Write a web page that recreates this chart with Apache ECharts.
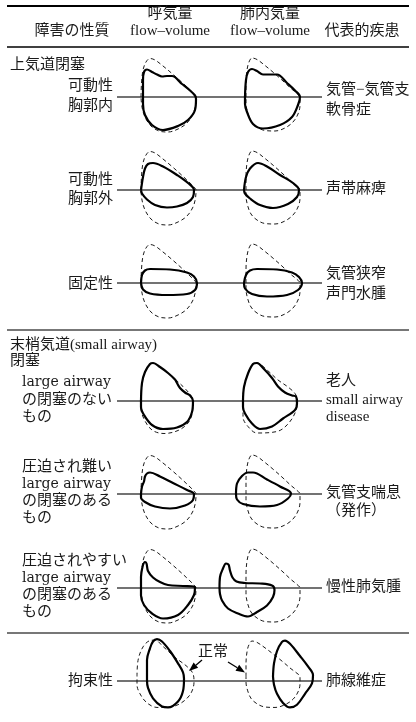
<!DOCTYPE html>
<html>
<head>
<meta charset="utf-8">
<script src="https://cdn.jsdelivr.net/npm/echarts@6/dist/echarts.min.js"></script>
<style>
  html, body { margin: 0; padding: 0; background: #fff; }
  #chart { width: 416px; height: 722px; }
</style>
</head>
<body>
<div id="chart"></div>
<script>
// loops as [volume, flow] ; flow > 0 expiration, < 0 inspiration
// normal reference loops (dashed)
const normalExp = [[11,0],[11.5,14],[13,27],[16,35],[20,38.5],[25,37],[33,31],[42,23.5],[51,15.5],[59,8],[64,3],[66,0],[65.5,-8],[63,-17],[57,-26],[48,-32],[38,-35],[29,-34],[21,-29],[15,-20],[12,-10],[11,0]];
const normalLung = [[16,0],[16,14],[17,27],[19,35],[22,39],[27,37.5],[35,31.5],[44,24],[53,16],[61,8.5],[67,3.5],[70,0],[70,-8],[68,-17],[63,-25],[55,-31],[45,-34],[35,-33.5],[27,-30],[21,-24],[17.5,-15],[16,-6],[16,0]];
const r4Normal = [[11,0],[12,18],[15,29],[20,37],[23,38],[30,34],[38,28],[46,21],[53,14.5],[59,8],[62.5,3],[63,0],[62.5,-11],[58,-22],[48,-29.5],[34,-32.5],[22,-29],[14,-18],[11,-7],[11,0]];
const r4LungNormal = [[13,0],[14,14],[18,27.5],[23,37],[27,38],[37,31],[48,21],[58,14],[65,7.5],[67.5,1],[65,-12],[57,-24],[47,-30.5],[27,-32],[18,-25.5],[13,-16],[13,0]];
const r7Normal = [[7,0],[8,17.5],[13,32.5],[20,39.5],[25,40],[33,33],[45,21],[57,11],[63,3],[64,-6],[62,-16],[57,-24],[48,-31],[37,-34],[27,-34],[17,-29],[10,-19],[7,-9],[7,0]];

// disease loops (solid)
const r1Exp = [[13,0],[13,17],[14,25],[17,27.5],[22,25],[27,22.5],[32,20.5],[37,21],[42,21],[52,13],[60,6.5],[65,1.5],[66,-2],[65,-13],[58,-23],[48,-29],[33,-33],[22,-28],[15,-18],[13,-7],[13,0]];
const r1Lung = [[15,0],[16,17],[18,25],[22,28],[27,26],[33,22.5],[40,22.5],[47,22.5],[57,14],[65,6.5],[70,0],[68,-8],[62,-20],[50,-28],[33,-31.5],[23,-27],[17,-15],[15,-7],[15,0]];
const r2Exp = [[11,0],[13,13],[15,21.5],[18,26],[23,27],[33,23.5],[47,15],[58,7],[64,0],[63,-7],[57,-13],[47,-16.5],[37,-17.5],[25,-15],[17,-9.5],[12,-3.5],[11,0]];
const r2Lung = [[14,0],[16,13],[20,21.5],[28,27],[37,23.5],[50,15],[63,7],[69,0],[67,-7],[58,-14],[43,-18],[30,-15],[20,-8.5],[15,-3.5],[14,0]];
const r3Exp = [[11,0],[12,8],[15,12.5],[20,14],[40,13.5],[57,10.5],[64,6.5],[67,0],[65,-7],[57,-11],[37,-12],[20,-10.5],[13,-6.5],[11,0]];
const r3Lung = [[14,0],[16,8],[20,12.5],[27,14],[47,13.5],[62,10.5],[69,6],[72,0],[68,-7],[57,-12],[37,-13.5],[22,-11],[15,-5.5],[14,0]];
const r4Exp = [[11,0],[12,18],[15,29],[20,37],[23,38],[30,34],[38,28],[45,21.5],[47,18],[50,13],[55,8.5],[60,5.5],[63,0],[62,-11],[57,-21],[47,-26.5],[33,-28],[22,-24],[14,-14],[11,-6],[11,0]];
const r4Lung = [[13,0],[14,14],[18,27.5],[23,37],[27,38],[33,33],[42,23],[48,14.5],[55,8.5],[62,5.5],[66,4.5],[67,-2],[65,-9],[53,-17.5],[42,-25.5],[30,-28],[22,-22.5],[15,-12.5],[13,-6],[13,0]];
const r5Exp = [[11,0],[12,7.5],[14,12.5],[15,17.5],[17,20.5],[20,21.5],[30,17.5],[43,11],[57,4],[64,0],[63,-6],[55,-11.5],[40,-14.5],[25,-12.5],[15,-8],[11,-3.5],[11,0]];
const r5Lung = [[6,0],[7,10.5],[12,18],[18,21.5],[23,21.5],[37,14.5],[50,7.5],[61,0.5],[58,-4.5],[47,-11],[30,-12.5],[13,-10],[7,-5.5],[6,0]];
const r6Exp = [[11,0],[11,11],[12.5,21],[15,26],[16.5,24.5],[18,17],[23,10.5],[30,6],[38,3],[53,2],[65,1],[64,-7],[58,-17],[48,-27],[33,-30.5],[22,-25.5],[14,-17],[11,-7.5],[11,0]];
const r6Lung = [[-10.5,0],[-10,11],[-7,19.5],[-4,24.5],[-1.5,23.5],[0,17.5],[2.5,10.5],[6.5,6.5],[15,5],[30,4.5],[42,2.5],[44.5,-2],[43,-9],[37,-17.5],[27,-24],[18,-28.5],[8,-25.5],[-2,-20.5],[-8,-12.5],[-10,-6],[-10.5,0]];
const r7Exp = [[17,0],[17,18],[20,31],[23,38.5],[27,41],[32,38.5],[40,28],[48,14.5],[53,4.5],[54,-2.5],[53,-16],[48,-27.5],[38,-34],[32,-33],[23,-24],[18,-12.5],[17,-4],[17,0]];
const r7Lung = [[43,0],[44,14.5],[47,28],[52,38],[55,39.5],[60,36],[70,22.5],[78,11],[83,1.5],[82,-7.5],[75,-19],[67,-31],[60,-34],[53,-29],[47,-19],[44,-9],[43,0]];

// texts
const headers = ['障害の性質', '呼気量', 'flow–volume', '肺内気量', 'flow–volume', '代表的疾患'];
const groups = ['上気道閉塞', '末梢気道(small airway)', '閉塞'];
const rowLabels = [
  ['可動性', '胸郭内'],
  ['可動性', '胸郭外'],
  ['固定性'],
  ['large airway', 'の閉塞のない', 'もの'],
  ['圧迫され難い', 'large airway', 'の閉塞のある', 'もの'],
  ['圧迫されやすい', 'large airway', 'の閉塞のある', 'もの'],
  ['拘束性']
];
const diseases = [
  ['気管−気管支', '軟骨症'],
  ['声帯麻痺'],
  ['気管狭窄', '声門水腫'],
  ['老人', 'small airway', 'disease'],
  ['気管支喘息', '（発作）'],
  ['慢性肺気腫'],
  ['肺線維症']
];
const normalLabel = '正常';

const panels = [
  [0, 0, normalExp, r1Exp], [0, 1, normalLung, r1Lung],
  [1, 0, normalExp, r2Exp], [1, 1, normalLung, r2Lung],
  [2, 0, normalExp, r3Exp], [2, 1, normalLung, r3Lung],
  [3, 0, r4Normal, r4Exp], [3, 1, r4LungNormal, r4Lung],
  [4, 0, normalExp, r5Exp], [4, 1, normalLung, r5Lung],
  [5, 0, normalExp, r6Exp], [5, 1, normalLung, r6Lung],
  [6, 0, r7Normal, r7Exp], [6, 1, normalLung, r7Lung]
];

// layout
const rowY = [97, 190, 283, 401, 494, 588, 681];
const colX = [130, 230];
const FONT = "'Liberation Serif', 'Noto Sans CJK JP', serif";
const WIDE = "'DejaVu Serif', serif";
const INK = '#1a1a1a';

const grids = [], xAxes = [], yAxes = [], series = [];
panels.forEach(([r, c, norm, sick], i) => {
  grids.push({ left: colX[c] - 20, top: rowY[r] - 50, width: 110, height: 100 });
  xAxes.push({ type: 'value', gridIndex: i, min: -20, max: 90, show: false });
  yAxes.push({ type: 'value', gridIndex: i, min: -50, max: 50, show: false });
  series.push({
    type: 'line', xAxisIndex: i, yAxisIndex: i, data: norm, smooth: 0.35,
    symbol: 'none', clip: false, silent: true, z: 3,
    lineStyle: { color: INK, width: 1, type: [4, 3] }
  });
  series.push({
    type: 'line', xAxisIndex: i, yAxisIndex: i, data: sick, smooth: 0.35,
    symbol: 'none', clip: false, silent: true, z: 4,
    lineStyle: { color: '#000', width: 2.2 }
  });
});

const g = [];
function txt(x, y, s, align, font) {
  g.push({ type: 'text', x: x, y: y, z: 10, style: {
    text: s, fill: INK, font: font || ('15px ' + FONT),
    textAlign: align || 'left', textVerticalAlign: 'middle' } });
}
function rule(x1, y1, x2, y2, w, color) {
  g.push({ type: 'line', z: 1, shape: { x1, y1, x2, y2 },
    style: { stroke: color || '#000', lineWidth: w } });
}
function arrow(x1, y1, x2, y2) {
  const dx = x2 - x1, dy = y2 - y1, len = Math.hypot(dx, dy);
  const ux = dx / len, uy = dy / len, hl = 9, hw = 3.5;
  const bx = x2 - ux * hl, by = y2 - uy * hl;
  rule(x1, y1, bx, by, 1.3, '#000');
  g.push({ type: 'polygon', z: 10, shape: { points: [[x2, y2],
    [bx - uy * hw, by + ux * hw], [bx + uy * hw, by - ux * hw]] },
    style: { fill: '#000' } });
}

// table rules
rule(7, 6, 409, 6, 2.2);
rule(7, 47, 409, 47, 1.3);
rule(7, 330, 409, 330, 2, '#777');
rule(7, 633, 409, 633, 2, '#777');
rowY.forEach(y => rule(117, y, 322, y, 1.3, '#444'));

// header
txt(72, 31, headers[0], 'center');
txt(170, 14, headers[1], 'center');
txt(170, 31, headers[2], 'center');
txt(270, 14, headers[3], 'center');
txt(270, 31, headers[4], 'center');
txt(362, 31, headers[5], 'center');

// group titles
txt(10, 65, groups[0]);
txt(10, 345, groups[1]);
txt(10, 361, groups[2]);

// row labels
const labelY = [[86, 106], [180, 199], [284], [382, 400, 417], [467, 484, 501, 518], [561, 578, 595, 612], [681]];
rowLabels.forEach((lines, r) => {
  const right = lines.length < 3;
  lines.forEach((s, k) => {
    const latin = /^[a-z ]+$/.test(s);
    txt(right ? 113 : 22, labelY[r][k], s, right ? 'right' : 'left', latin ? '14px ' + WIDE : null);
  });
});

// diseases
const disY = [[90, 110], [189], [274, 294], [381, 400, 417], [493, 511], [587], [681]];
diseases.forEach((lines, r) => lines.forEach((s, k) => txt(326, disY[r][k], s)));

// normal markers
txt(213, 652, normalLabel, 'center');
arrow(202, 660, 189, 671);
arrow(228, 662, 245, 672.5);

const chart = echarts.init(document.getElementById('chart'));
chart.setOption({
  animation: false,
  backgroundColor: '#fff',
  grid: grids,
  xAxis: xAxes,
  yAxis: yAxes,
  series: series,
  graphic: g
});
</script>
</body>
</html>
